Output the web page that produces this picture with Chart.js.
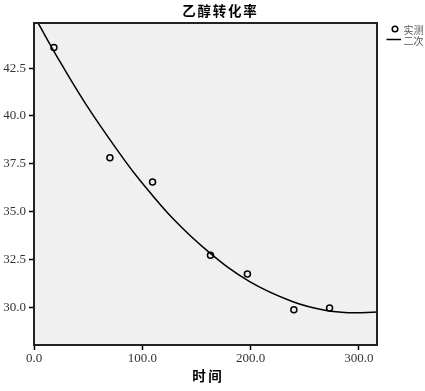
<!DOCTYPE html>
<html>
<head>
<meta charset="utf-8">
<script src="https://cdn.jsdelivr.net/npm/chart.js@4/dist/chart.umd.min.js"></script>
<style>
html,body{margin:0;padding:0;background:#fff;}
#wrap{width:425px;height:391px;position:relative;}
</style>
</head>
<body>
<div id="wrap"><canvas id="c" width="425" height="391"></canvas></div>
<script>
// Observed data (实测)
const obsX = [18.4, 70.1, 109.5, 163.0, 197.1, 240.0, 273.0];
const obsY = [43.58, 37.81, 36.55, 32.71, 31.73, 29.86, 29.95];
// Quadratic fit curve (二次)
const fitX = [0, 18.4, 48.6, 83.9, 97.8, 128.5, 162.3, 199.2, 239.1, 269.9, 291.4, 317];
const fitY = [45.25, 43.38, 40.55, 37.66, 36.64, 34.62, 32.84, 31.33, 30.28, 29.82, 29.71, 29.74];
const yTicks = [30.0, 32.5, 35.0, 37.5, 40.0, 42.5];
const xTicks = [0, 100, 200, 300];
const titleText = '乙醇转化率';
const xTitle = '时间';
const legendLabels = ['实测', '二次'];

const obsData = obsX.map((x, i) => ({x: x, y: obsY[i]}));
const fitData = fitX.map((x, i) => ({x: x, y: fitY[i]}));

function spacedText(ctx, text, cx, cy, spacing) {
  // draw text centred at cx with extra spacing between characters
  const chars = Array.from(text);
  const widths = chars.map(c => ctx.measureText(c).width);
  const total = widths.reduce((s, w) => s + w, 0) + spacing * (chars.length - 1);
  let x = cx - total / 2;
  ctx.textAlign = 'left';
  chars.forEach((c, i) => { ctx.fillText(c, x, cy); x += widths[i] + spacing; });
}

const deco = {
  id: 'deco',
  beforeDraw(chart) {
    const {ctx, chartArea: a} = chart;
    ctx.save();
    ctx.fillStyle = '#f0f0f0';
    ctx.fillRect(a.left, a.top, a.right - a.left, a.bottom - a.top);
    ctx.restore();
  },
  afterDraw(chart) {
    const {ctx, chartArea: a} = chart;
    ctx.save();
    ctx.strokeStyle = '#222';
    ctx.lineWidth = 2;
    ctx.strokeRect(a.left, a.top, a.right - a.left, a.bottom - a.top);
    // title
    ctx.fillStyle = '#000';
    ctx.textBaseline = 'middle';
    ctx.font = 'bold 13.5px "Noto Sans CJK SC"';
    spacedText(ctx, titleText, 219.5, 11, 1.8);
    // x axis title
    ctx.font = 'bold 13.5px "Noto Sans CJK SC"';
    spacedText(ctx, xTitle, 207, 376, 2.5);
    // legend
    ctx.strokeStyle = '#000';
    ctx.lineWidth = 1.5;
    ctx.beginPath();
    ctx.arc(395, 29, 2.8, 0, Math.PI * 2);
    ctx.stroke();
    ctx.beginPath();
    ctx.moveTo(386.5, 39.5);
    ctx.lineTo(401, 39.5);
    ctx.stroke();
    ctx.fillStyle = '#555';
    ctx.font = '10px "Noto Sans CJK SC"';
    ctx.textAlign = 'left';
    ctx.fillText(legendLabels[0], 403.5, 30);
    ctx.fillText(legendLabels[1], 403.5, 41);
    ctx.restore();
  }
};

new Chart(document.getElementById('c'), {
  type: 'scatter',
  data: {
    datasets: [
      {
        label: legendLabels[0],
        data: obsData,
        showLine: false,
        pointStyle: 'circle',
        pointRadius: 3,
        pointBorderWidth: 1.5,
        pointBorderColor: '#000',
        pointBackgroundColor: 'rgba(0,0,0,0)',
        order: 1
      },
      {
        label: legendLabels[1],
        data: fitData,
        showLine: true,
        pointRadius: 0,
        borderColor: '#000',
        borderWidth: 1.5,
        tension: 0.4,
        order: 2
      }
    ]
  },
  options: {
    responsive: false,
    animation: false,
    layout: {padding: {left: 0, top: 23, right: 48, bottom: 0}},
    plugins: {legend: {display: false}, title: {display: false}, tooltip: {enabled: false}},
    scales: {
      x: {
        type: 'linear',
        min: 0,
        max: 316.8,
        afterBuildTicks(s) { s.ticks = xTicks.map(v => ({value: v})); },
        afterFit(s) { s.height = 391 - 345; },
        grid: {drawOnChartArea: false, tickLength: 5, tickColor: '#000', tickWidth: 1.5},
        border: {display: true, color: '#000', width: 2},
        ticks: {
          callback: v => Number(v).toFixed(1),
          color: '#333',
          font: {family: '"Liberation Serif"', size: 13},
          padding: 1,
          maxRotation: 0,
          autoSkip: false
        }
      },
      y: {
        type: 'linear',
        min: 28.02,
        max: 44.86,
        afterBuildTicks(s) { s.ticks = yTicks.map(v => ({value: v})); },
        afterFit(s) { s.width = 34; },
        grid: {drawOnChartArea: false, tickLength: 5, tickColor: '#000', tickWidth: 1.5},
        border: {display: true, color: '#000', width: 2},
        ticks: {
          callback: v => Number(v).toFixed(1),
          color: '#333',
          font: {family: '"Liberation Serif"', size: 13},
          padding: 3,
          autoSkip: false
        }
      }
    }
  },
  plugins: [deco]
});
</script>
</body>
</html>
